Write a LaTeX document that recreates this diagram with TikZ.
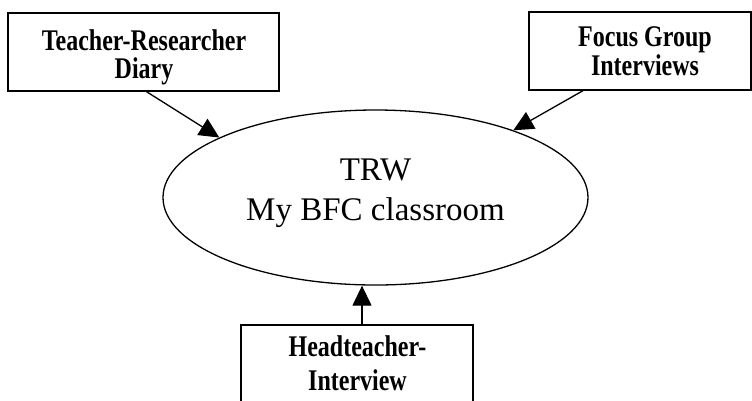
\documentclass[tikz,border=0pt]{standalone}
\usepackage{fontspec}
\setmainfont{Liberation Serif}
\usetikzlibrary{arrows.meta,shapes.geometric}
\newcommand{\tallbf}[2]{\scalebox{1}[1.25]{\fontsize{24}{#1}\selectfont\bfseries\begin{tabular}{@{}c@{}}#2\end{tabular}}}
\begin{document}
\begin{tikzpicture}[x=1pt,y=-1pt,
  srcbox/.style={draw, line width=1.3pt, inner sep=0pt},
  lbl/.style={align=center, inner sep=0pt},
  arr/.style={line width=1.3pt, -{Triangle[length=20pt,width=19pt]}}]
\useasboundingbox (0,0) rectangle (752,400);
\clip (0,0) rectangle (752,400);
% boxes
\node[srcbox, minimum width=271pt, minimum height=78pt] (diary) at (143.5,52) {};
\node[lbl] (diaryt) at (144,58) {\tallbf{20}{Teacher-Researcher\\Diary}};
\node[srcbox, minimum width=222pt, minimum height=78pt] (focus) at (640,51) {};
\node[lbl] (focust) at (645,55) {\tallbf{22}{Focus Group\\Interviews}};
\node[srcbox, minimum width=232pt, minimum height=85pt] (head) at (357,367.5) {};
\node[lbl] (headt) at (357.5,367) {\tallbf{27}{Headteacher-\\Interview}};
% ellipse
\node[draw, ellipse, line width=1.3pt, minimum width=425pt, minimum height=175pt,
  font=\fontsize{33}{40}\selectfont, align=center] (trw) at (375.5,197.5) {};
\node[lbl, font=\fontsize{33}{40}\selectfont] (trwt) at (375.5,193) {TRW\\My BFC classroom};
% connectors
\draw[arr] ([xshift=3pt]diary.south) -- (trw.159);
\draw[arr] ([xshift=-57pt]focus.south) -- (trw.26);
\draw[arr] ([xshift=5pt]head.north) -- ([xshift=5pt]head.north |- trw.south);
\end{tikzpicture}
\end{document}
